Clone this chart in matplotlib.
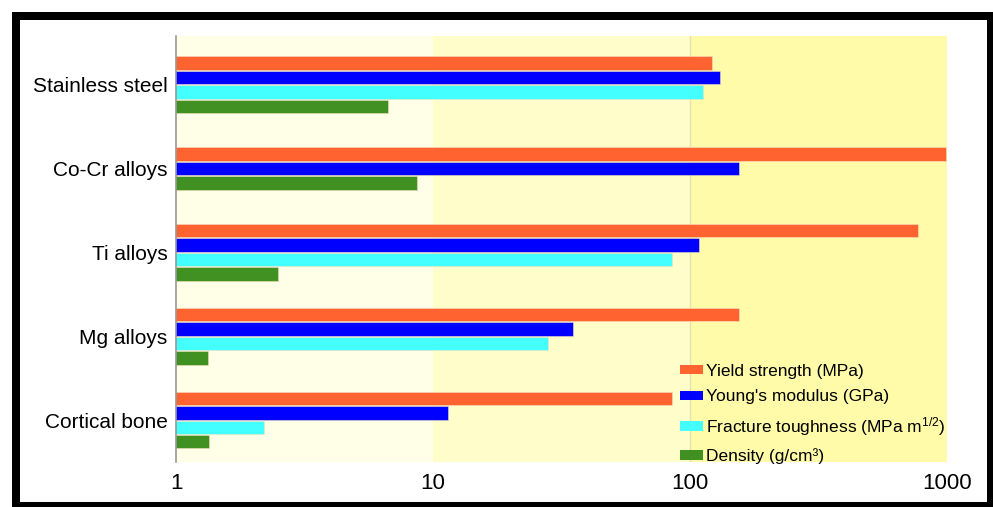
import matplotlib
matplotlib.use("Agg")
import matplotlib.pyplot as plt
from matplotlib.patches import Rectangle, Patch
import numpy as np

plt.rcParams['font.family'] = ['Liberation Sans', 'DejaVu Sans']
plt.rcParams['mathtext.fontset'] = 'custom'
plt.rcParams['mathtext.rm'] = 'Liberation Sans'
plt.rcParams['mathtext.it'] = 'Liberation Sans'

categories = ["Stainless steel", "Co-Cr alloys", "Ti alloys", "Mg alloys", "Cortical bone"]
series_names = ["Yield strength (MPa)", "Young's modulus (GPa)",
                "Fracture toughness (MPa $\\mathrm{m^{1/2}}$)", "Density (g/cm³)"]
yield_strength = [122, 990, 770, 155, 85]
youngs_modulus = [131, 155, 108, 35, 11.4]
fracture_toughness = [112, None, 85, 28, 2.2]
density = [6.7, 8.7, 2.5, 1.33, 1.34]
tick_values = [1, 10, 100, 1000]
tick_labels = ["1", "10", "100", "1000"]

colors = ["#FF6430", "#0000FF", "#44FFFF", "#409022"]
series = [yield_strength, youngs_modulus, fracture_toughness, density]

fig = plt.figure(figsize=(9.93, 5.07), dpi=100)
ax = fig.add_axes([176/993, 1-462/507, (947-176)/993, (462-36)/507])

# background zones
zone_colors = ["#FFFEE6", "#FFFDCA", "#FFFBA8"]
for i, c in enumerate(zone_colors):
    ax.axvspan(tick_values[i], tick_values[i+1], color=c, zorder=0, lw=0)
ax.axvline(100, color="#E6E2B0", lw=1, zorder=0.5)

step = 0.172
height = 0.16
for gi, cat in enumerate(categories):
    present = [si for si in range(4) if series[si][gi] is not None]
    n = len(present)
    for k, si in enumerate(present):
        y = gi + (k - (n - 1) / 2) * step
        ax.barh(y, series[si][gi], height=height,
                color=colors[si], edgecolor="#F0E0C0", linewidth=0.4, zorder=2)

ax.set_xscale("log")
ax.set_xlim(1, 1000)
ax.set_ylim(4.5, -0.58)
ax.set_yticks(range(len(categories)))
ax.set_yticklabels(categories, fontsize=15)
ax.set_xticks(tick_values)
ax.set_xticklabels(tick_labels, fontsize=16)
ax.xaxis.set_minor_locator(matplotlib.ticker.NullLocator())
ax.tick_params(axis="both", length=0)
ax.tick_params(axis="y", pad=6)
ax.tick_params(axis="x", pad=8)
for s in ["top", "right", "bottom"]:
    ax.spines[s].set_visible(False)
ax.spines["left"].set_color("#999999")
ax.spines["left"].set_linewidth(1.2)

handles = [Patch(facecolor=c, edgecolor="none") for c in colors]
leg = ax.legend(handles, series_names, loc="upper left",
                bbox_to_anchor=((680-176)/771, (462-364)/426),
                frameon=False, fontsize=12.5, borderpad=0, borderaxespad=0,
                handlelength=1.3, handleheight=0.45, handletextpad=0.2,
                labelspacing=0.6)

# black frame
fig.patches.append(Rectangle((16/993, 1-506/507), (991-16)/993, (506-16)/507,
                             transform=fig.transFigure, fill=False,
                             edgecolor="black", linewidth=8*0.72, zorder=10))

fig.savefig("out.png", dpi=100)
